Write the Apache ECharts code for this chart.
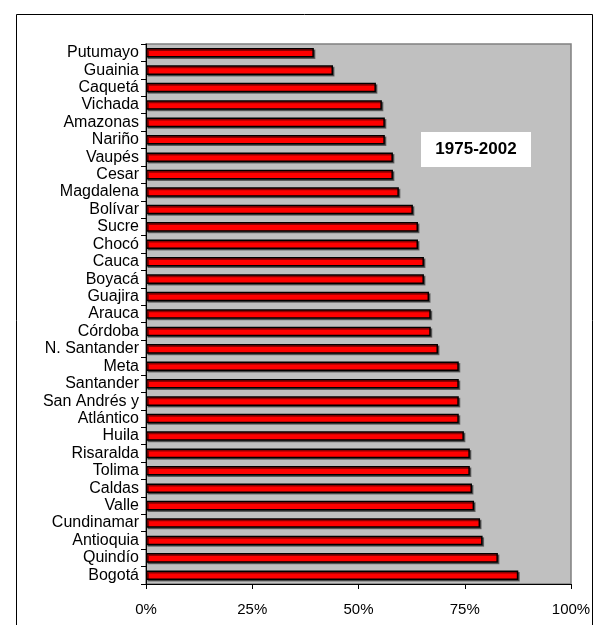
<!DOCTYPE html>
<html>
<head>
<meta charset="utf-8">
<script src="https://cdn.jsdelivr.net/npm/echarts@6/dist/echarts.min.js"></script>
<style>html,body{margin:0;padding:0;background:#fff}#c{width:602px;height:625px}</style>
</head>
<body>
<div id="c"></div>
<script>
const categories = ["Putumayo","Guainia","Caquetá","Vichada","Amazonas","Nariño","Vaupés","Cesar","Magdalena","Bolívar","Sucre","Chocó","Cauca","Boyacá","Guajira","Arauca","Córdoba","N. Santander","Meta","Santander","San Andrés y","Atlántico","Huila","Risaralda","Tolima","Caldas","Valle","Cundinamar","Antioquia","Quindío","Bogotá"];
const values = [39.5,44,54.1,55.5,56.2,56.2,58.1,58.1,59.5,62.8,64,64,65.4,65.4,66.6,67,67,68.7,73.6,73.6,73.6,73.6,74.8,76.2,76.2,76.7,77.2,78.6,79.2,82.8,87.6];
const xTicks = [0,25,50,75,100];
const periodLabel = "1975-2002";

const chart = echarts.init(document.getElementById('c'), null, {renderer:'canvas'});
chart.setOption({
  animation:false,
  backgroundColor:'#fff',
  grid:{left:146,right:31,top:44,bottom:41,show:true,backgroundColor:'#C0C0C0',borderColor:'#808080',borderWidth:1.5},
  xAxis:{type:'value',min:0,max:100,interval:25,
    axisLine:{show:true,lineStyle:{color:'#000',width:1}},
    axisTick:{show:true,length:5,lineStyle:{color:'#000'}},
    splitLine:{show:false},
    axisLabel:{formatter:v=>xTicks.includes(v)?v+'%':'',color:'#000',fontFamily:'Liberation Sans, Arial',fontSize:15,margin:18}
  },
  yAxis:{type:'category',data:categories,inverse:true,
    axisLine:{show:true,lineStyle:{color:'#000',width:1}},
    axisTick:{show:true,length:5,alignWithLabel:false,lineStyle:{color:'#000'}},
    axisLabel:{color:'#000',fontFamily:'Liberation Sans, Arial',fontSize:16,margin:7,interval:0}
  },
  series:[{type:'bar',data:values,barCategoryGap:'45%',
    itemStyle:{color:'#FF0000',borderColor:'#000',borderWidth:1.5,shadowColor:'rgba(0,0,0,0.45)',shadowOffsetX:1.5,shadowOffsetY:1.5,shadowBlur:0}
  }],
  graphic:[
    {type:'rect',shape:{x:16.5,y:14.5,width:576,height:640},style:{fill:'none',stroke:'#000',lineWidth:1},z:-1},
    {type:'rect',shape:{x:421,y:132,width:110,height:35},style:{fill:'#fff'},z:10},
    {type:'text',x:476,y:149.5,style:{text:periodLabel,fill:'#000',font:'bold 17px Liberation Sans, Arial',textAlign:'center',textVerticalAlign:'middle'},z:11}
  ]
});
</script>
</body>
</html>
